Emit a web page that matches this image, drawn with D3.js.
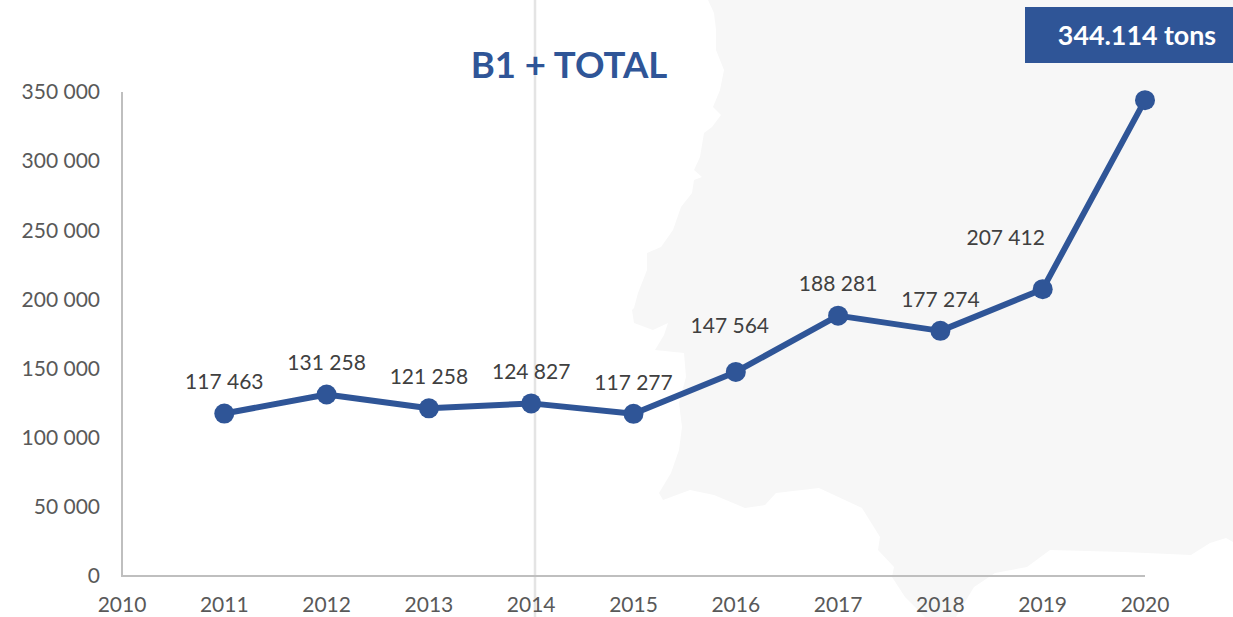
<!DOCTYPE html>
<html>
<head>
<meta charset="utf-8">
<script src="https://cdn.jsdelivr.net/npm/d3@7"></script>
<style>
html, body { margin: 0; padding: 0; background: #fff; overflow: hidden; }
svg { display: block; font-family: Lato, "Open Sans", sans-serif; }
.tick-label { font-size: 21px; fill: #595959; }
.value-label { font-size: 21px; fill: #404040; text-anchor: middle; }
</style>
</head>
<body>
<svg id="chart" width="1233" height="617"></svg>
<script>
// chart values
const years = [2011, 2012, 2013, 2014, 2015, 2016, 2017, 2018, 2019, 2020];
const tons = [117463, 131258, 121258, 124827, 117277, 147564, 188281, 177274, 207412, 344114];
const valueLabels = ["117 463", "131 258", "121 258", "124 827", "117 277", "147 564", "188 281", "177 274", "207 412"];
const yearTicks = [2010, 2011, 2012, 2013, 2014, 2015, 2016, 2017, 2018, 2019, 2020];
const valueTicks = [0, 50000, 100000, 150000, 200000, 250000, 300000, 350000];

// most labels sit above their point, these two were moved by hand in the original
const labelNudge = { 2016: [-6, -15], 2019: [-37, -20] };

// background map of Iberia, traced in pixels
const mapOutline = [
    [708,0],[714,13],[716,30],[716,50],[724,70],[720,90],[713,107],[721,115],[712,127],[704,133],
    [700,157],[694,170],[702,177],[694,180],[692,193],[681,207],[673,230],[661,247],[647,253],[647,270],
    [638,293],[634,308],[632,310],[634,323],[653,330],[668,323],[664,335],[655,350],[684,353],[686,377],
    [679,403],[682,427],[679,450],[671,473],[659,493],[663,500],[690,490],[714,495],[745,508],[765,505],
    [776,493],[819,488],[862,508],[880,537],[878,550],[894,567],[892,577],[905,597],[925,617],[956,617],
    [974,587],[995,573],[1027,567],[1050,550],[1124,552],[1191,555],[1210,543],[1226,538],[1233,542],[1233,0]
];

const blue = "#2f5597";
const x = d3.scaleLinear().domain([2010, 2020]).range([122, 1145]);
const y = d3.scaleLinear().domain([0, 350000]).range([576, 92]);
const svg = d3.select("#chart");

svg.append("path")
    .attr("d", d3.line()(mapOutline) + "Z")
    .attr("fill", "#f7f7f7");

svg.append("line")
    .attr("x1", 535).attr("x2", 535).attr("y1", 0).attr("y2", 617)
    .attr("stroke", "#e4e4e4").attr("stroke-width", 2.5);

// axes
const axisColor = "#bfbfbf";
svg.append("line").attr("x1", x(2010)).attr("x2", x(2010)).attr("y1", y(350000)).attr("y2", y(0))
    .attr("stroke", axisColor).attr("stroke-width", 2);
svg.append("line").attr("x1", x(2010) - 1).attr("x2", x(2020)).attr("y1", y(0)).attr("y2", y(0))
    .attr("stroke", axisColor).attr("stroke-width", 2);

svg.selectAll(".y-tick").data(valueTicks).join("text")
    .attr("class", "tick-label y-tick")
    .attr("x", 100)
    .attr("y", d => y(d))
    .attr("dy", "0.35em")
    .attr("text-anchor", "end")
    .text(d => d === 0 ? "0" : d3.format(",")(d).replace(",", " "));

svg.selectAll(".x-tick").data(yearTicks).join("text")
    .attr("class", "tick-label x-tick")
    .attr("x", d => x(d))
    .attr("y", 612)
    .attr("text-anchor", "middle")
    .text(d => d);

// series
const points = years.map((year, i) => ({ year, value: tons[i], label: valueLabels[i] }));

svg.append("path")
    .attr("d", d3.line().x(d => x(d.year)).y(d => y(d.value))(points))
    .attr("fill", "none")
    .attr("stroke", blue)
    .attr("stroke-width", 6)
    .attr("stroke-linejoin", "round");

svg.selectAll(".point").data(points).join("circle")
    .attr("class", "point")
    .attr("cx", d => x(d.year))
    .attr("cy", d => y(d.value))
    .attr("r", 10)
    .attr("fill", blue);

svg.selectAll(".value-label").data(points.filter(d => d.label)).join("text")
    .attr("class", "value-label")
    .attr("x", d => x(d.year) + (labelNudge[d.year] || [0, 0])[0])
    .attr("y", d => y(d.value) - 31.5 + (labelNudge[d.year] || [0, 0])[1])
    .attr("dy", "0.35em")
    .text(d => d.label);

svg.append("text")
    .attr("x", 569).attr("y", 78)
    .attr("text-anchor", "middle")
    .attr("font-size", 36.6).attr("font-weight", 700)
    .attr("fill", blue)
    .text("B1 + TOTAL");

svg.append("rect")
    .attr("x", 1025).attr("y", 7).attr("width", 208).attr("height", 56)
    .attr("fill", blue);
svg.append("text")
    .attr("x", 1137).attr("y", 45)
    .attr("text-anchor", "middle")
    .attr("font-size", 26.8).attr("font-weight", 700)
    .attr("fill", "#fff")
    .text("344.114 tons");
</script>
</body>
</html>
